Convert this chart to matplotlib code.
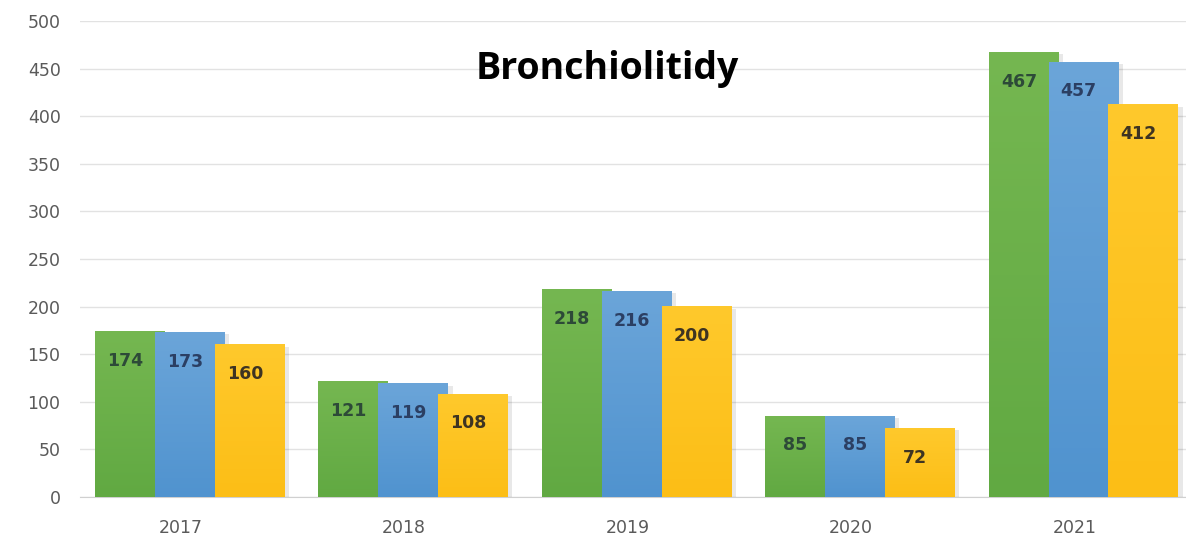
import numpy as np
import matplotlib.pyplot as plt
from matplotlib.colors import LinearSegmentedColormap

# values
years = ["2017", "2018", "2019", "2020", "2021"]
green_vals = [174, 121, 218, 85, 467]
blue_vals = [173, 119, 216, 85, 457]
yellow_vals = [160, 108, 200, 72, 412]

# top / bottom colours of each series' gradient
grads = [("#75b751", "#61a942"), ("#6ba5d9", "#5093cf"), ("#ffc92c", "#fcbe16")]
text_colors = ["#2d4a38", "#2b3f63", "#3e3422"]

fig = plt.figure(figsize=(11.86, 5.41), dpi=100)
ax = fig.add_axes([0.0675, 0.0813, 0.9325, 0.8797])

x = np.arange(len(years))
width = 0.31
step = 0.268
ramp = np.linspace(0, 1, 256).reshape(-1, 1)

for i, vals in enumerate([green_vals, blue_vals, yellow_vals]):
    pos = x + (i - 1) * step + 0.04
    cmap = LinearSegmentedColormap.from_list("g%d" % i, [grads[i][1], grads[i][0]])
    # soft shadow to the right of each bar
    ax.bar(pos + 0.022, vals, width, bottom=-2, color="#000000", alpha=0.09,
           zorder=2 + i * 2)
    bars = ax.bar(pos, vals, width, color=grads[i][1], zorder=3 + i * 2)
    for b, v in zip(bars, vals):
        x0 = b.get_x()
        ax.imshow(ramp, extent=[x0, x0 + width, 0, v], origin="lower",
                  aspect="auto", cmap=cmap, zorder=3 + i * 2)
        ax.annotate(str(v), (x0 + width / 2 - 0.02, v),
                    xytext=(0, -21), textcoords="offset points",
                    ha="center", va="center", fontsize=12.5, fontweight="bold",
                    color=text_colors[i], zorder=10)

ax.set_xlim(-0.45, 4.5)
ax.set_ylim(0, 500)
ax.set_yticks(np.arange(0, 501, 50))
ax.set_xticks(x)
ax.set_xticklabels(years)
ax.tick_params(axis="both", length=0, labelsize=12.5, labelcolor="#5a5a5a")
ax.tick_params(axis="x", pad=16)
ax.tick_params(axis="y", pad=14)
ax.grid(axis="y", color="#e2e2e2", linewidth=1, zorder=0)
ax.set_axisbelow(True)
for s in ["top", "right", "left"]:
    ax.spines[s].set_visible(False)
ax.spines["bottom"].set_color("#d0d0d0")

fig.text(0.512, 0.872, "Bronchiolitidy", ha="center", va="center",
         fontsize=27, fontweight="bold", color="black", family="Open Sans")

fig.savefig("out.png", dpi=100)
